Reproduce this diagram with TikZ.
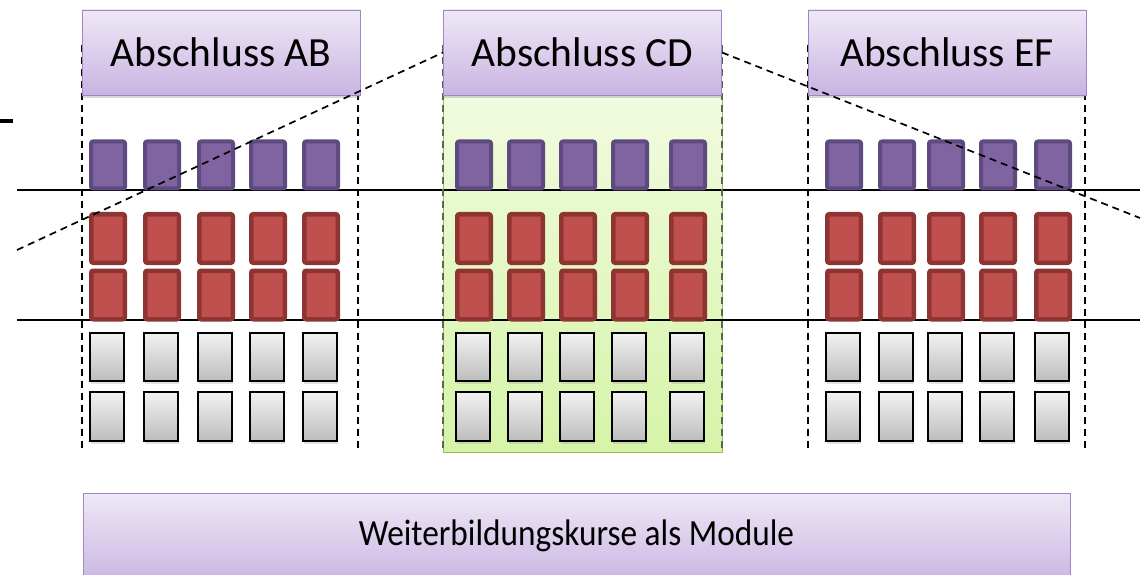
\documentclass[tikz,border=0pt]{standalone}
\usepackage{fontspec}
\usepackage{graphicx}
\setmainfont{Carlito}
\usetikzlibrary{shadows}
\definecolor{hdrtop}{HTML}{EEE8F6}
\definecolor{hdrbot}{HTML}{C9B4E2}
\definecolor{hdrline}{HTML}{A185C6}
\definecolor{purp}{HTML}{8064A2}
\definecolor{purpdark}{HTML}{5E4A7E}
\definecolor{redc}{HTML}{C0504D}
\definecolor{reddark}{HTML}{8E3533}
\definecolor{grtop}{HTML}{F1FBE0}
\definecolor{grbot}{HTML}{D6F4A8}
\definecolor{grline}{HTML}{9BBB59}
\definecolor{grdash}{HTML}{59674C}
\begin{document}
\begin{tikzpicture}[x=1pt,y=-1pt,
 hdr/.style={draw=hdrline, line width=0.9pt, top color=hdrtop, bottom color=hdrbot,
   minimum width=278pt, minimum height=85pt, inner sep=0pt,
   font=\fontsize{41.5}{48}\selectfont,
   drop shadow={opacity=0.3, shadow xshift=0pt, shadow yshift=-3pt}},
 pbox/.style={draw=purpdark, fill=purp, line width=4pt, rounded corners=2pt,
   minimum width=34pt, minimum height=47pt, inner sep=0pt},
 rbox/.style={draw=reddark, fill=redc, line width=4.5pt, rounded corners=2pt,
   minimum width=33.5pt, minimum height=48.5pt, inner sep=0pt},
 gbox/.style={draw=black, line width=1.7pt, top color=black!5, bottom color=black!26,
   minimum width=33.5pt, minimum height=48.5pt, inner sep=0pt,
   drop shadow={opacity=0.22, shadow xshift=1pt, shadow yshift=-3pt}},
 sepline/.style={draw=black, line width=1.2pt},
 guide/.style={line width=1.7pt, dash pattern=on 7pt off 5pt},
 greenbox/.style={draw=grline, line width=0.8pt, top color=grtop, bottom color=grbot,
   minimum width=279pt, minimum height=357pt, inner sep=0pt},
 modbox/.style={draw=hdrline, line width=0.9pt, top color=hdrtop, bottom color=hdrbot,
   minimum width=987pt, minimum height=92pt, inner sep=0pt,
   font=\fontsize{37}{44}\selectfont}
]
\useasboundingbox (0,0) rectangle (1144,575);

% green highlight of column CD
\node[greenbox] (green) at (582.5,273.5) {};

% horizontal separator lines
\coordinate (l1a) at (17,190); \coordinate (l1b) at (1140,190);
\coordinate (l2a) at (17,320); \coordinate (l2b) at (1140,320);
\draw[sepline] (l1a) -- (l1b);
\draw[sepline] (l2a) -- (l2b);

% short thick bar at top left
\coordinate (bar1) at (0,121); \coordinate (bar2) at (13,121);
\draw[line width=4pt] (bar1) -- (bar2);

% vertical dashed guides
\foreach \n/\x/\c in {abl/82/black, abr/358/black, cdl/443/grdash, cdr/722/grdash, efl/808/black, efr/1085/black}{
  \coordinate (\n t) at (\x,45);
  \coordinate (\n b) at (\x,448);
  \draw[guide, draw=\c] (\n t) -- (\n b);
}

% header boxes
\node[hdr] (ab) at (221,52.5) {Abschluss AB};
\node[hdr] (cd) at (582.5,52.5) {Abschluss CD};
\node[hdr] (ef) at (947,52.5) {Abschluss EF};

% module blocks
\foreach \g/\xa/\xb/\xc/\xd/\xe in {ab/108/162/216/268/321, cd/474/526/578/630/688, ef/844/897/946/998/1053}{
  \foreach[count=\i] \x in {\xa,\xb,\xc,\xd,\xe}{
    \node[pbox] (\g p\i) at (\x,165) {};
    \node[rbox] (\g ra\i) at (\x,238.5) {};
    \node[rbox] (\g rb\i) at (\x,295) {};
    \node[gbox] (\g ga\i) at (\x-1,357) {};
    \node[gbox] (\g gb\i) at (\x-1,416.5) {};
  }
}

% diagonal dashed lines
\coordinate (dl) at (17,250);
\coordinate (dr) at (1140,218);
\draw[guide] (dl) -- (cd.west);
\draw[guide] (cd.east) -- (dr);

% bottom module box
\node[modbox, anchor=north] (mod) at (576.5,493)
  {\raisebox{13pt}{\scalebox{0.9}[1]{Weiterbildungskurse als Module}}};
\end{tikzpicture}
\end{document}
